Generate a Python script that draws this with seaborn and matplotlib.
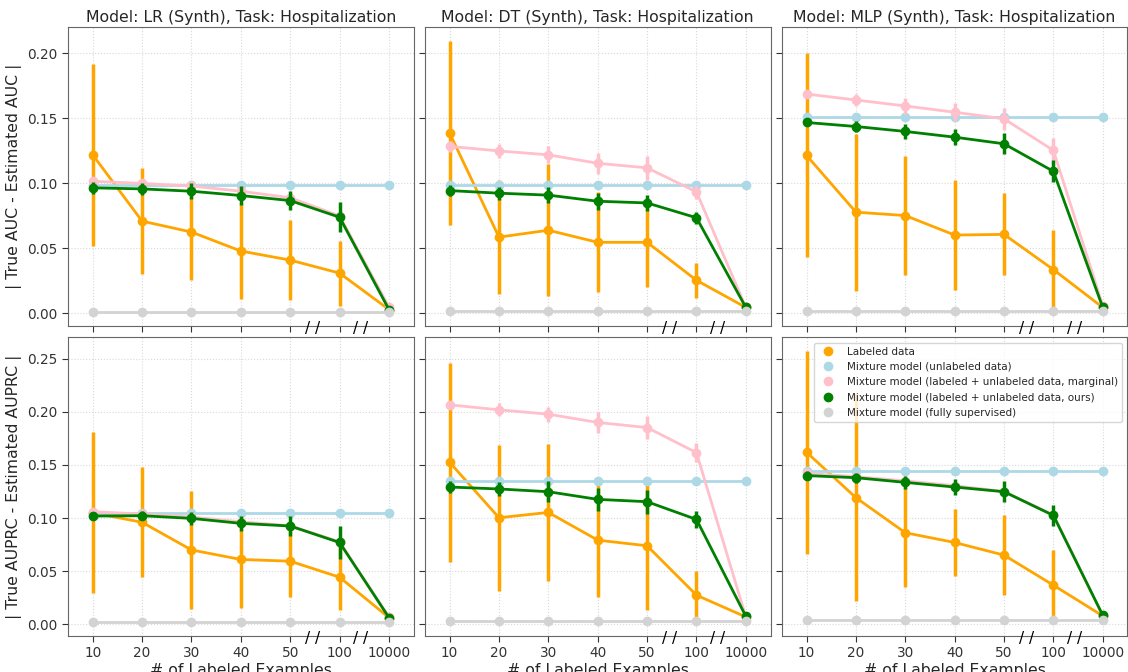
import numpy as np
import seaborn as sns
import matplotlib.pyplot as plt
import matplotlib.transforms as mtransforms
from matplotlib.lines import Line2D

# x categories (number of labeled examples)
n_labels = ["10", "20", "30", "40", "50", "100", "10000"]
models = ["LR", "DT", "MLP"]
metrics = ["AUC", "AUPRC"]
methods = ["Labeled data",
           "Mixture model (unlabeled data)",
           "Mixture model (labeled + unlabeled data, marginal)",
           "Mixture model (labeled + unlabeled data, ours)",
           "Mixture model (fully supervised)"]
colors = ["orange", "lightblue", "pink", "green", "lightgray"]

# ---- | True AUC - Estimated AUC | ----
lr_auc_labeled = [0.122, 0.071, 0.0626, 0.048, 0.041, 0.031, 0.003]
lr_auc_labeled_err = [0.070, 0.041, 0.037, 0.037, 0.031, 0.025, 0.0]
lr_auc_unlabeled = [0.099, 0.099, 0.099, 0.099, 0.099, 0.099, 0.099]
lr_auc_marginal = [0.1017, 0.100, 0.098, 0.094, 0.089, 0.075, 0.005]
lr_auc_marginal_err = [0.003, 0.003, 0.004, 0.004, 0.004, 0.003, 0.0]
lr_auc_ours = [0.0966, 0.0958, 0.094, 0.0907, 0.0868, 0.074, 0.003]
lr_auc_ours_err = [0.0045, 0.0045, 0.006, 0.007, 0.007, 0.0115, 0.0]
lr_auc_supervised = [0.001, 0.001, 0.001, 0.001, 0.001, 0.001, 0.001]

dt_auc_labeled = [0.1387, 0.0587, 0.064, 0.0547, 0.0547, 0.0255, 0.0046]
dt_auc_labeled_err = [0.071, 0.044, 0.0508, 0.0385, 0.034, 0.0135, 0.0]
dt_auc_unlabeled = [0.0986, 0.0986, 0.0986, 0.0986, 0.0986, 0.0986, 0.0986]
dt_auc_marginal = [0.1285, 0.125, 0.122, 0.1155, 0.112, 0.0935, 0.0046]
dt_auc_marginal_err = [0.004, 0.0054, 0.0066, 0.008, 0.009, 0.0055, 0.0]
dt_auc_ours = [0.0945, 0.0925, 0.091, 0.0863, 0.085, 0.0736, 0.0046]
dt_auc_ours_err = [0.0045, 0.005, 0.006, 0.0065, 0.006, 0.0045, 0.0]
dt_auc_supervised = [0.002, 0.002, 0.002, 0.002, 0.002, 0.002, 0.002]

mlp_auc_labeled = [0.1216, 0.0779, 0.0753, 0.0603, 0.0608, 0.0337, 0.0046]
mlp_auc_labeled_err = [0.0785, 0.0605, 0.046, 0.042, 0.0315, 0.0305, 0.0]
mlp_auc_unlabeled = [0.151, 0.151, 0.151, 0.151, 0.151, 0.151, 0.151]
mlp_auc_marginal = [0.1688, 0.1642, 0.1596, 0.1548, 0.1497, 0.1254, 0.006]
mlp_auc_marginal_err = [0.003, 0.0045, 0.006, 0.007, 0.0085, 0.0098, 0.0]
mlp_auc_ours = [0.1469, 0.1438, 0.140, 0.1356, 0.1305, 0.1093, 0.0046]
mlp_auc_ours_err = [0.003, 0.004, 0.0055, 0.006, 0.008, 0.0085, 0.0]
mlp_auc_supervised = [0.0015, 0.0015, 0.0015, 0.0015, 0.0015, 0.0015, 0.0015]

# ---- | True AUPRC - Estimated AUPRC | ----
lr_auprc_labeled = [0.105, 0.096, 0.070, 0.061, 0.0594, 0.0443, 0.0063]
lr_auprc_labeled_err = [0.076, 0.0518, 0.0552, 0.0456, 0.0334, 0.031, 0.0]
lr_auprc_unlabeled = [0.1047, 0.1047, 0.1047, 0.1047, 0.1047, 0.1047, 0.1047]
lr_auprc_marginal = [0.106, 0.1038, 0.101, 0.0965, 0.0928, 0.0777, 0.007]
lr_auprc_marginal_err = [0.003, 0.003, 0.004, 0.004, 0.004, 0.004, 0.0]
lr_auprc_ours = [0.1019, 0.1022, 0.0997, 0.095, 0.0925, 0.077, 0.0063]
lr_auprc_ours_err = [0.004, 0.004, 0.006, 0.007, 0.009, 0.0155, 0.0]
lr_auprc_supervised = [0.002, 0.002, 0.002, 0.002, 0.002, 0.002, 0.002]

dt_auprc_labeled = [0.1525, 0.1003, 0.1053, 0.0792, 0.0739, 0.0274, 0.0069]
dt_auprc_labeled_err = [0.0935, 0.0687, 0.0648, 0.0534, 0.0605, 0.0225, 0.0]
dt_auprc_unlabeled = [0.1352, 0.1352, 0.1352, 0.1352, 0.1352, 0.1352, 0.1352]
dt_auprc_marginal = [0.2066, 0.2019, 0.1978, 0.190, 0.1852, 0.1616, 0.0069]
dt_auprc_marginal_err = [0.004, 0.006, 0.007, 0.010, 0.011, 0.0087, 0.0]
dt_auprc_ours = [0.1292, 0.1274, 0.1248, 0.1176, 0.1154, 0.0987, 0.0075]
dt_auprc_ours_err = [0.0055, 0.007, 0.010, 0.011, 0.0113, 0.008, 0.0]
dt_auprc_supervised = [0.0035, 0.0035, 0.0035, 0.0035, 0.0035, 0.0035, 0.0035]

mlp_auprc_labeled = [0.162, 0.1192, 0.0862, 0.077, 0.0651, 0.0368, 0.0079]
mlp_auprc_labeled_err = [0.0954, 0.0975, 0.0508, 0.0316, 0.0375, 0.0330, 0.0]
mlp_auprc_unlabeled = [0.1443, 0.1443, 0.1443, 0.1443, 0.1443, 0.1443, 0.1443]
mlp_auprc_marginal = [0.142, 0.139, 0.135, 0.1305, 0.125, 0.103, 0.0079]
mlp_auprc_marginal_err = [0.003, 0.003, 0.003, 0.003, 0.003, 0.003, 0.0]
mlp_auprc_ours = [0.140, 0.138, 0.1336, 0.1292, 0.1248, 0.1025, 0.0085]
mlp_auprc_ours_err = [0.004, 0.0047, 0.006, 0.0074, 0.0097, 0.010, 0.0]
mlp_auprc_supervised = [0.0038, 0.0038, 0.0038, 0.0038, 0.0038, 0.0038, 0.0038]

# (values, errors) per method, per panel
panels = {
    ("AUC", "LR"): [(lr_auc_labeled, lr_auc_labeled_err), (lr_auc_unlabeled, None),
                    (lr_auc_marginal, lr_auc_marginal_err), (lr_auc_ours, lr_auc_ours_err),
                    (lr_auc_supervised, None)],
    ("AUC", "DT"): [(dt_auc_labeled, dt_auc_labeled_err), (dt_auc_unlabeled, None),
                    (dt_auc_marginal, dt_auc_marginal_err), (dt_auc_ours, dt_auc_ours_err),
                    (dt_auc_supervised, None)],
    ("AUC", "MLP"): [(mlp_auc_labeled, mlp_auc_labeled_err), (mlp_auc_unlabeled, None),
                     (mlp_auc_marginal, mlp_auc_marginal_err), (mlp_auc_ours, mlp_auc_ours_err),
                     (mlp_auc_supervised, None)],
    ("AUPRC", "LR"): [(lr_auprc_labeled, lr_auprc_labeled_err), (lr_auprc_unlabeled, None),
                      (lr_auprc_marginal, lr_auprc_marginal_err), (lr_auprc_ours, lr_auprc_ours_err),
                      (lr_auprc_supervised, None)],
    ("AUPRC", "DT"): [(dt_auprc_labeled, dt_auprc_labeled_err), (dt_auprc_unlabeled, None),
                      (dt_auprc_marginal, dt_auprc_marginal_err), (dt_auprc_ours, dt_auprc_ours_err),
                      (dt_auprc_supervised, None)],
    ("AUPRC", "MLP"): [(mlp_auprc_labeled, mlp_auprc_labeled_err), (mlp_auprc_unlabeled, None),
                       (mlp_auprc_marginal, mlp_auprc_marginal_err), (mlp_auprc_ours, mlp_auprc_ours_err),
                       (mlp_auprc_supervised, None)],
}

sns.set_style("whitegrid", {"grid.linestyle": ":", "grid.color": "#d9d9d9",
                            "axes.edgecolor": "#666666",
                            "xtick.bottom": True, "ytick.left": True,
                            "xtick.color": "#333333", "ytick.color": "#333333"})
plt.rcParams["font.family"] = ["DejaVu Sans"]
plt.rcParams["xtick.major.size"] = 4
plt.rcParams["ytick.major.size"] = 4

fig, axes = plt.subplots(2, 3, figsize=(11.28, 6.72), dpi=100, sharex=True, sharey="row")
fig.subplots_adjust(left=0.0603, right=0.9995, top=0.9594, bottom=0.054,
                    wspace=0.0327, hspace=0.039)

xpos = np.arange(len(n_labels))
for r, metric in enumerate(metrics):
    for c, model in enumerate(models):
        ax = axes[r, c]
        for (vals, errs), col in zip(panels[(metric, model)], colors):
            if errs is not None:
                ax.errorbar(xpos, vals, yerr=errs, fmt="none", ecolor=col,
                            elinewidth=2.5, capsize=0)
            sns.pointplot(x=n_labels, y=vals, order=n_labels, color=col,
                          markers="o", markersize=5.5, linewidth=2,
                          errorbar=None, ax=ax)
        ax.set_xlim(-0.5, len(n_labels) - 0.5)
        ax.grid(True, which="major", axis="both", linestyle=":", color="#d9d9d9")
        ax.set_xlabel("")
        ax.set_ylabel("")
        ax.tick_params(labelsize=9.8)
        # axis break marks
        trans = mtransforms.blended_transform_factory(ax.transData, ax.transAxes)
        for xb in (4.45, 5.43):
            ax.text(xb, -0.008, "/ /", transform=trans, ha="center", va="center",
                    fontsize=11, color="black", clip_on=False)
        if r == 0:
            ax.set_title(f"Model: {model} (Synth), Task: Hospitalization",
                         fontsize=11.3, pad=4)
        else:
            ax.set_xlabel("# of Labeled Examples", fontsize=11.3, labelpad=2)

axes[0, 0].set_ylabel("| True AUC - Estimated AUC |", fontsize=11.3)
axes[1, 0].set_ylabel("| True AUPRC - Estimated AUPRC |", fontsize=11.3)

handles = [Line2D([], [], marker="o", linestyle="", color=col, markersize=6)
           for col in colors]
axes[1, 2].legend(handles, methods, loc="upper right", fontsize=7.5)

fig.savefig("out.png", dpi=100)
